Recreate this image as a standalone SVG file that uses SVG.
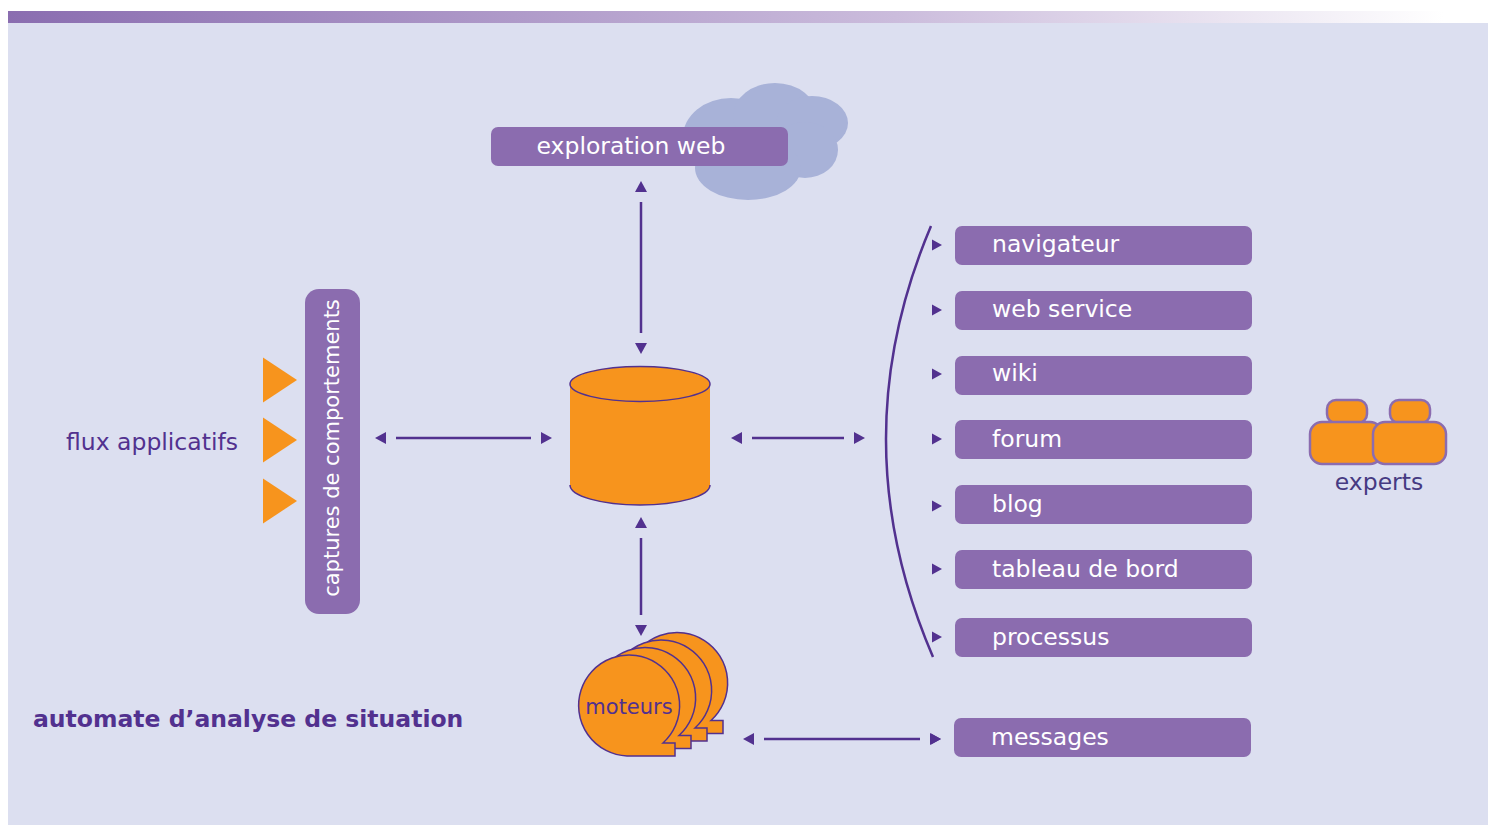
<svg xmlns="http://www.w3.org/2000/svg" xmlns:xlink="http://www.w3.org/1999/xlink" width="1488" height="825" viewBox="0 0 1488 825">
<style>
.t{font-family:"DejaVu Sans","Liberation Sans",sans-serif;font-size:23.5px}
.w{fill:#ffffff}
.p{fill:#52318f}
.box{fill:#8b6caf}
.org{fill:#f7941d;stroke:#52318f;stroke-width:1.5}
.ln{stroke:#52318f;stroke-width:2.5;fill:none}
.ah{fill:#52318f}
.ex{fill:#f7941d;stroke:#8b6caf;stroke-width:2.5}
</style>
<defs>
<linearGradient id="topbar" x1="0" y1="0" x2="1" y2="0">
<stop offset="0" stop-color="#8a6db0"/>
<stop offset="0.6" stop-color="#cbbcdc"/>
<stop offset="0.97" stop-color="#ffffff"/>
</linearGradient>
<marker id="arr" markerUnits="userSpaceOnUse" orient="auto-start-reverse" refX="0" refY="0" markerWidth="1" markerHeight="1" overflow="visible">
<path d="M10,-6 L21,0 L10,6 Z" class="ah"/>
</marker>
<path id="tri" d="M0,-5.5 L10,0 L0,5.5 Z" class="ah"/>
<path id="otri" d="M0,-22.5 L34,0 L0,22.5 Z" fill="#f7941d"/>
<path id="bubble" d="M627,756 L675,756 L675,743 L663,743 A50.5,50.5 0 1 0 627,756 Z" class="org"/>
</defs>

<rect x="0" y="0" width="1488" height="825" fill="#ffffff"/>
<rect x="8" y="23" width="1480" height="802" fill="#dcdff0"/>
<rect x="8" y="11" width="1480" height="12" fill="url(#topbar)"/>

<g id="connectors">
<line class="ln" x1="641" y1="202" x2="641" y2="333" marker-start="url(#arr)" marker-end="url(#arr)"/>
<line class="ln" x1="641" y1="538" x2="641" y2="615" marker-start="url(#arr)" marker-end="url(#arr)"/>
<line class="ln" x1="396" y1="438" x2="531" y2="438" marker-start="url(#arr)" marker-end="url(#arr)"/>
<line class="ln" x1="752" y1="438" x2="844" y2="438" marker-start="url(#arr)" marker-end="url(#arr)"/>
<line class="ln" x1="764" y1="739" x2="920" y2="739" marker-start="url(#arr)" marker-end="url(#arr)"/>
<path class="ln" d="M931,226 Q840,441 933,657"/>
<use xlink:href="#tri" x="932" y="245"/>
<use xlink:href="#tri" x="932" y="310"/>
<use xlink:href="#tri" x="932" y="374"/>
<use xlink:href="#tri" x="932" y="439"/>
<use xlink:href="#tri" x="932" y="506"/>
<use xlink:href="#tri" x="932" y="569"/>
<use xlink:href="#tri" x="932" y="637"/>
<use xlink:href="#tri" x="931" y="739"/>
</g>

<g id="exploration-web">
<ellipse cx="731" cy="137" rx="48" ry="39" fill="#a8b2d8"/>
<ellipse cx="775" cy="116" rx="42" ry="33" fill="#a8b2d8"/>
<ellipse cx="812" cy="123" rx="36" ry="27" fill="#a8b2d8"/>
<ellipse cx="805" cy="150" rx="33" ry="28" fill="#a8b2d8"/>
<ellipse cx="748" cy="168" rx="53" ry="32" fill="#a8b2d8"/>
<rect class="box" x="491" y="127" width="297" height="39" rx="7"/>
<text class="t w" x="631" y="154" text-anchor="middle">exploration web</text>
</g>

<g id="flux-applicatifs">
<text class="t p" x="66" y="450">flux applicatifs</text>
<use xlink:href="#otri" x="263" y="380"/>
<use xlink:href="#otri" x="263" y="440"/>
<use xlink:href="#otri" x="263" y="501"/>
</g>

<g id="captures">
<rect class="box" x="305" y="289" width="55" height="325" rx="14"/>
<text class="t w" style="font-size:21px" transform="translate(339,448) rotate(-90)" text-anchor="middle">captures de comportements</text>
</g>

<g id="base">
<path d="M570,384 L570,485 A70,20 0 0 0 710,485 L710,384 Z" fill="#f7941d"/>
<path class="ln" style="stroke-width:1.5" d="M570,485 A70,20 0 0 0 710,485"/>
<ellipse class="org" cx="640" cy="384" rx="70" ry="17.5"/>
</g>

<g id="moteurs">
<use xlink:href="#bubble" transform="translate(48,-22.5)"/>
<use xlink:href="#bubble" transform="translate(32,-15)"/>
<use xlink:href="#bubble" transform="translate(16,-7.5)"/>
<use xlink:href="#bubble"/>
<text class="t p" style="font-size:21px" x="629" y="714" text-anchor="middle">moteurs</text>
</g>

<g id="titre">
<text class="t p" style="font-weight:bold" x="33" y="727">automate d’analyse de situation</text>
</g>

<g id="navigateur"><rect class="box" x="955" y="226" width="297" height="39" rx="7"/><text class="t w" x="992" y="252">navigateur</text></g>
<g id="web-service"><rect class="box" x="955" y="291" width="297" height="39" rx="7"/><text class="t w" x="992" y="317">web service</text></g>
<g id="wiki"><rect class="box" x="955" y="356" width="297" height="39" rx="7"/><text class="t w" x="992" y="381">wiki</text></g>
<g id="forum"><rect class="box" x="955" y="420" width="297" height="39" rx="7"/><text class="t w" x="992" y="447">forum</text></g>
<g id="blog"><rect class="box" x="955" y="485" width="297" height="39" rx="7"/><text class="t w" x="992" y="512">blog</text></g>
<g id="tableau-de-bord"><rect class="box" x="955" y="550" width="297" height="39" rx="7"/><text class="t w" x="992" y="577">tableau de bord</text></g>
<g id="processus"><rect class="box" x="955" y="618" width="297" height="39" rx="7"/><text class="t w" x="992" y="645">processus</text></g>
<g id="messages"><rect class="box" x="954" y="718" width="297" height="39" rx="7"/><text class="t w" x="991" y="745">messages</text></g>

<g id="experts">
<rect class="ex" x="1327" y="400" width="40" height="23" rx="9"/>
<rect class="ex" x="1310" y="422" width="72" height="42" rx="12"/>
<rect class="ex" x="1390" y="400" width="40" height="23" rx="9"/>
<rect class="ex" x="1373" y="422" width="73" height="42" rx="12"/>
<text class="t" style="fill:#463a82" x="1379" y="490" text-anchor="middle">experts</text>
</g>
</svg>
